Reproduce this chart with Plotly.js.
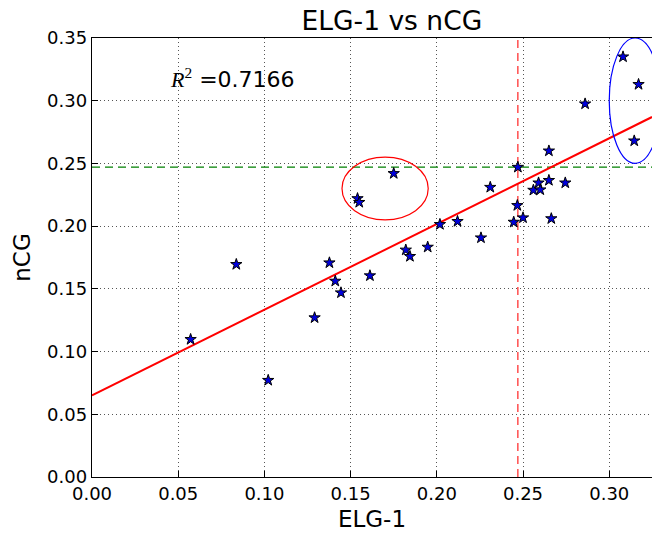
<!DOCTYPE html>
<html>
<head>
<meta charset="utf-8">
<script src="https://cdn.plot.ly/plotly-3.0.1.min.js"></script>
<style>html,body{margin:0;padding:0;background:#fff;}#chart{width:652px;height:534px;}</style>
</head>
<body>
<div id="chart"></div>
<script>
// ELG-1 (x) and nCG (y) values for each query
const elg1 = [0.0572, 0.0837, 0.1022, 0.1291, 0.1377, 0.1411, 0.1444, 0.1540, 0.1550, 0.1612,
              0.1750, 0.1820, 0.1844, 0.1947, 0.2018, 0.2120, 0.2256, 0.2310, 0.2446, 0.2467,
              0.2470, 0.2500, 0.2560, 0.2590, 0.2600, 0.2650, 0.2664, 0.2650, 0.2745, 0.2860,
              0.3080, 0.3145, 0.3170];
const ncg  = [0.1097, 0.1695, 0.0771, 0.1270, 0.1708, 0.1562, 0.1469, 0.2220, 0.2190, 0.1605,
              0.2420, 0.1810, 0.1759, 0.1833, 0.2014, 0.2038, 0.1907, 0.2310, 0.2032, 0.2165,
              0.2470, 0.2067, 0.2287, 0.2345, 0.2290, 0.2365, 0.2060, 0.2600, 0.2345, 0.2975,
              0.3350, 0.2680, 0.3130];
// regression line end points
const fitX = [0.0, 0.3248];
const fitY = [0.065, 0.287];
// mean reference lines
const meanElg = [0.247, 0.247];
const meanElgSpan = [0.0, 0.35];
const meanNcg = [0.247, 0.247];
const meanNcgSpan = [0.0, 0.3248];
const rSquared = "0.7166";
const xTicks = [0.00, 0.05, 0.10, 0.15, 0.20, 0.25, 0.30];
const yTicks = [0.00, 0.05, 0.10, 0.15, 0.20, 0.25, 0.30, 0.35];

const tickFmt = v => v.toFixed(2);

const traces = [
  {x: meanNcgSpan, y: meanNcg, mode: 'lines', line: {color: '#008000', width: 1.3, dash: '8px,5px'}, hoverinfo: 'skip'},
  {x: meanElg, y: meanElgSpan, mode: 'lines', line: {color: '#ff3333', width: 1.3, dash: '8px,5px'}, hoverinfo: 'skip'},
  {x: fitX, y: fitY, mode: 'lines', line: {color: '#ff0000', width: 2}},
  {x: elg1, y: ncg, mode: 'markers', marker: {symbol: 'star', size: 8.5, color: '#0000dd', line: {color: '#000', width: 1}}}
];

const layout = {
  width: 652, height: 534,
  margin: {l: 92, r: 0, t: 38, b: 57},
  paper_bgcolor: '#fff', plot_bgcolor: '#fff',
  showlegend: false,
  font: {family: 'DejaVu Sans', color: '#000', size: 18},
  title: {text: 'ELG-1 vs nCG', font: {family: 'DejaVu Sans', size: 26.5, color: '#000'},
          xref: 'container', x: 0.601, xanchor: 'center', yref: 'container', y: 0.962, yanchor: 'middle'},
  xaxis: {
    range: [0, 0.3248], tickvals: xTicks, ticktext: xTicks.map(tickFmt),
    showgrid: true, gridcolor: '#555', gridwidth: 1, griddash: '1px,3px',
    zeroline: false, showline: true, linecolor: '#000', linewidth: 1.3, mirror: true,
    ticks: 'inside', ticklen: 6, tickcolor: '#000',
    tickfont: {family: 'DejaVu Sans', size: 18, color: '#000'},
    title: {text: 'ELG-1', font: {family: 'DejaVu Sans', size: 23, color: '#000'}, standoff: 8}
  },
  yaxis: {
    range: [0, 0.35], tickvals: yTicks, ticktext: yTicks.map(tickFmt),
    showgrid: true, gridcolor: '#555', gridwidth: 1, griddash: '1px,3px',
    zeroline: false, showline: true, linecolor: '#000', linewidth: 1.3, mirror: false,
    ticks: 'inside', ticklen: 6, tickcolor: '#000',
    tickfont: {family: 'DejaVu Sans', size: 18, color: '#000'},
    title: {text: 'nCG', font: {family: 'DejaVu Sans', size: 23, color: '#000'}, standoff: 10}
  },
  shapes: [
    {type: 'circle', xref: 'x', yref: 'y', x0: 0.145, x1: 0.195, y0: 0.205, y1: 0.255,
     line: {color: '#ff0000', width: 1.2}},
    {type: 'circle', xref: 'x', yref: 'y', x0: 0.300, x1: 0.330, y0: 0.250, y1: 0.350,
     line: {color: '#0000ff', width: 1.2}}
  ],
  annotations: [
    {xref: 'x', yref: 'y', x: 0.0440, y: 0.318, xanchor: 'left', yanchor: 'middle', showarrow: false,
     text: '<span style="font-family:Liberation Serif"><i>R</i><sup>2</sup></span> =' + rSquared,
     font: {family: 'DejaVu Sans', size: 22, color: '#000'}}
  ]
};

Plotly.newPlot('chart', traces, layout, {displayModeBar: false, staticPlot: true});
</script>
</body>
</html>
